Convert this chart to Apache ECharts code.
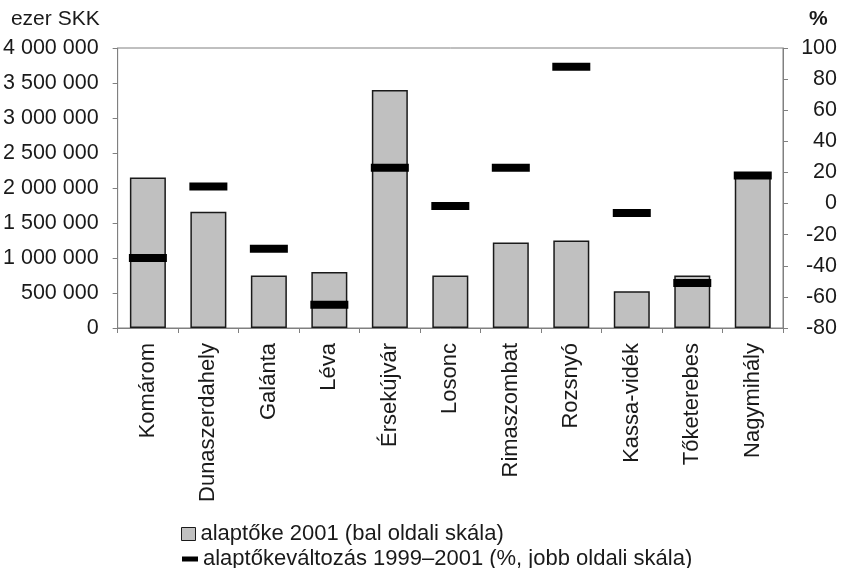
<!DOCTYPE html>
<html><head><meta charset="utf-8">
<script src="https://cdn.jsdelivr.net/npm/echarts@6/dist/echarts.min.js"></script>
<style>html,body{margin:0;padding:0;background:#fff}#c{width:842px;height:568px}</style>
</head><body><div id="c"></div>
<script>
const categories = ['Komárom','Dunaszerdahely','Galánta','Léva','Érsekújvár','Losonc','Rimaszombat','Rozsnyó','Kassa-vidék','Tőketerebes','Nagymihály'];
const capital2001 = [2150000,1660000,750000,800000,3400000,750000,1220000,1250000,525000,750000,2220000];
const change9901 = [-35,11,-29,-65,23,-1.5,23,88,-6,-51,18];
const leftScale = {min:0, max:4000000, interval:500000};
const rightScale = {min:-80, max:100, interval:20};
const leftUnit = 'ezer SKK';
const rightUnit = '%';
const seriesNames = ['alaptőke 2001 (bal oldali skála)', 'alaptőkeváltozás 1999–2001 (%, jobb oldali skála)'];

const FONT = '"Liberation Sans", Arial, sans-serif';
const TXT = '#1a1a1a';
const AX = '#808080';
const fmtSpace = v => String(v).replace(/\B(?=(\d{3})+(?!\d))/g, ' ');

const chart = echarts.init(document.getElementById('c'), null, {renderer:'canvas'});
chart.setOption({
  animation:false,
  backgroundColor:'#fff',
  textStyle:{fontFamily:FONT},
  grid:{left:116, right:59, top:48, bottom:240, show:true, borderColor:AX, borderWidth:1, backgroundColor:'transparent'},
  legend:[
    {data:[seriesNames[0]], orient:'vertical', left:176, top:518, itemWidth:14, itemHeight:13, icon:'rect',
     itemStyle:{borderColor:'#1a1a1a', borderWidth:1},
     textStyle:{fontFamily:FONT, fontSize:22, color:TXT}},
    {data:[seriesNames[1]], orient:'vertical', left:177, top:543, itemWidth:16, itemHeight:5, icon:'rect',
     itemStyle:{opacity:1, color:'#000'},
     textStyle:{fontFamily:FONT, fontSize:22, color:TXT}}
  ],
  xAxis:{type:'category', data:categories,
    axisLine:{lineStyle:{color:AX, width:1}},
    axisTick:{show:true, length:5, lineStyle:{color:AX}},
    axisLabel:{rotate:90, margin:15, fontSize:22, color:TXT, fontFamily:FONT, interval:0},
    splitLine:{show:false}},
  yAxis:[
    {type:'value', position:'left', min:leftScale.min, max:leftScale.max, interval:leftScale.interval,
     name:leftUnit, nameLocation:'end', nameGap:18,
     nameTextStyle:{fontSize:21, color:TXT, fontFamily:FONT, align:'right', padding:[0,18,0,0]},
     axisLine:{show:true, lineStyle:{color:AX}},
     axisTick:{show:true, length:5, lineStyle:{color:AX}},
     axisLabel:{margin:19, fontSize:21.5, color:TXT, fontFamily:FONT, formatter:fmtSpace},
     splitLine:{show:false}},
    {type:'value', position:'right', min:rightScale.min, max:rightScale.max, interval:rightScale.interval,
     name:rightUnit, nameLocation:'end', nameGap:18,
     nameTextStyle:{fontSize:21, fontWeight:'bold', color:TXT, fontFamily:FONT, align:'left', padding:[0,0,0,26]},
     axisLine:{show:true, lineStyle:{color:AX}},
     axisTick:{show:true, length:5, lineStyle:{color:AX}},
     axisLabel:{margin:54, align:'right', fontSize:21.5, color:TXT, fontFamily:FONT},
     splitLine:{show:false}}
  ],
  series:[
    {name:seriesNames[0], type:'bar', yAxisIndex:0, data:capital2001, barWidth:36,
     itemStyle:{color:'#c0c0c0', borderColor:'#1a1a1a', borderWidth:1.5}},
    {name:seriesNames[1], type:'scatter', yAxisIndex:1, data:change9901, symbol:'rect', symbolSize:[38,8],
     itemStyle:{color:'#000', opacity:1}, z:5}
  ]
});
</script></body></html>
